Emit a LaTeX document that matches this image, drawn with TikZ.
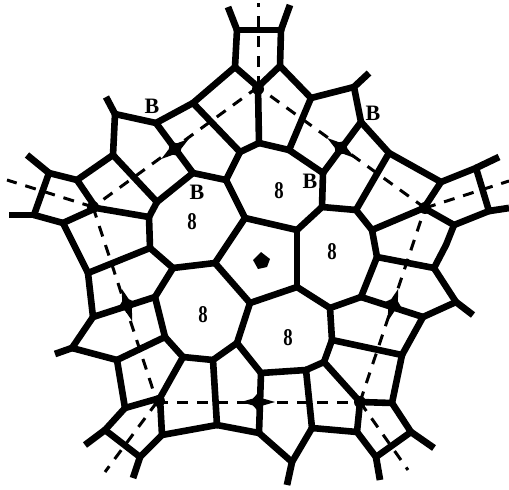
\documentclass[tikz,border=0pt]{standalone}
\usepackage{fontspec}
\setmainfont{Liberation Serif}
\tikzset{
  edge/.style={line width=6.6pt,line cap=round,line join=round,black},
  tail/.style={line width=6.8pt,line cap=butt,black},
  guide/.style={line width=3pt,dash pattern=on 11pt off 9pt,black},
  lab/.style={font=\bfseries\fontsize{22}{22}\selectfont,inner sep=0pt},
  num/.style={font=\bfseries\fontsize{24}{24}\selectfont,inner sep=0pt,xscale=.78},
  blob/.style={fill=black,draw=none}
}
\begin{document}
\begin{tikzpicture}[x=1pt,y=-1pt]
\useasboundingbox[fill=white] (0,0) rectangle (509,490);
% guide lines
\foreach \n/\x/\y in {p1/258/87,p2/93/207,p3/157/402,p4/360/402,p5/425/208,
 r1/258/3,r2/7/180,r3/105/472,r4/408/470,r5/509/181}
 {\coordinate (\n) at (\x,\y);}
\draw[guide] (p1) -- (p2);\draw[guide] (p2) -- (p3);\draw[guide] (p3) -- (p4);
\draw[guide] (p4) -- (p5);\draw[guide] (p5) -- (p1);
\draw[guide] (p1) -- (r1);\draw[guide] (p2) -- (r2);\draw[guide] (p3) -- (r3);
\draw[guide] (p4) -- (r4);\draw[guide] (p5) -- (r5);
% vertices
\foreach \n/\x/\y in {
 a1/237/30,a2/281/30,a3/235/67,a4/280/66,a5/258/87,a6/259/143,
 b1/193/103,b2/156/123,b3/115/114,b4/113/155,b5/193/173,b6/240/152,b7/226/180,
 b8/157/202,b9/149/217,b10/77/180,b11/49/173,b12/34/215,b13/63/223,b14/96/208,
 c1/245/218,c2/297/230,c3/297/287,c4/250/303,c5/215/263,
 d1/150/248,d2/173/268,d3/88/273,d4/155/297,d5/93/317,d6/165/337,d7/183/357,
 d8/213/360,d9/237/343,d10/72/348,d11/117/360,d12/125/408,d13/160/398,d14/105/430,
 d15/140/457,d16/162/435,d17/217/425,
 e1/261/373,e2/259/433,e3/292/462,e4/312/428,e5/306/370,e6/324/362,e7/330/308,
 e8/332/340,e9/361/297,e10/377/257,e11/434/268,e12/456/302,e13/423/317,e14/402/355,
 e15/392/403,e16/360/402,e17/357/432,e18/376/457,e19/411/432,
 f1/311/98,f2/354/87,f3/361/122,f4/389/153,f5/323/173,f6/289/150,f7/322/207,
 f8/356/210,f9/372/230,f10/424/208,f11/441/182,f12/476/168,f13/489/211,f14/454/225,f15/446/245}
 {\coordinate (\n) at (\x,\y);}
% free ends
\foreach \n/\x/\y in {t1/228/7,t2/290/5,t3/106/97,t4/27/155,t5/9/215,t6/55/354,t7/85/445,
 t8/133/478,t9/287/485,t10/380/480,t11/434/448,t12/473/315,t13/369/73,t14/499/157,t15/509/208}
 {\coordinate (\n) at (\x,\y);}
% edges
\foreach \p/\q in {a1/a2,a1/a3,a2/a4,a3/a5,a4/a5,a5/a6,a3/b1,b1/b2,b2/b3,b3/b4,b2/b5,b1/b6,
 b6/a6,b6/b7,b5/b7,b7/c1,b4/b8,b5/b8,b8/b9,b4/b10,b10/b11,b11/b12,b12/b13,b10/b14,b14/b9,b13/b14,
 b9/d1,b13/d3,d3/d1,d1/d2,d2/c5,c5/c1,c1/c2,c2/c3,c3/c4,c4/c5,d2/d4,d3/d5,d5/d4,d4/d6,d6/d7,d7/d8,
 d8/d9,d9/c4,d5/d10,d10/d11,d11/d6,d11/d12,d12/d13,d13/d7,d12/d14,d14/d15,d15/d16,d16/d13,d16/d17,
 d17/d8,d17/e2,d9/e1,e1/e2,e2/e3,e3/e4,e4/e5,e5/e1,e5/e6,e6/e8,e8/e7,e7/c3,e7/e9,e9/e10,e10/e11,
 e11/f15,e11/e12,e12/e13,e9/e13,e13/e14,e14/e15,e8/e14,e6/e16,e16/e15,e16/e17,e17/e4,e17/e18,e18/e19,
 e19/e15,a4/f1,f1/f2,f2/f3,f3/f4,f3/f5,f1/f6,f6/a6,f6/f5,f5/f7,f7/f8,f7/c2,f8/f4,f8/f9,f9/e10,f9/f10,
 f4/f11,f11/f10,f11/f12,f12/f13,f13/f14,f10/f14,f14/f15}
 {\draw[edge] (\p) -- (\q);}
\foreach \p/\q in {a1/t1,a2/t2,b3/t3,b11/t4,b12/t5,d10/t6,d14/t7,d15/t8,e3/t9,e18/t10,e19/t11,e12/t12,f2/t13,f12/t14,f13/t15}
 {\draw[tail] (\p) -- (\q);}
% stars on the sides
\foreach \x/\y/\r in {175/149/36,341/148/-36,393/305/72,258/402/0,127/305/-72}
 {\path[blob,shift={(\x,\y)},rotate=\r] (-17,0) -- (-5,-3.5) -- (0,-9) -- (5,-3.5) -- (17,0) -- (5,3.5) -- (0,9) -- (-5,3.5) -- cycle;}
% blobs at corners
\foreach \x/\y in {258/89,93/207,159/401,360/402,425/208}
 {\path[blob] (\x,\y) circle (6pt);}
% central pentagon
\path[blob] (261,252) -- (270,259) -- (267,267) -- (258,269) -- (253,260) -- cycle;
% labels
\node[lab] (l1) at (152,106) {B};
\node[lab] (l2) at (373,113) {B};
\node[lab] (l3) at (197,192) {B};
\node[lab] (l4) at (310,181) {B};
\node[num] (n1) at (192,222) {8};
\node[num] (n2) at (279,191) {8};
\node[num] (n3) at (332,252) {8};
\node[num] (n4) at (203,315) {8};
\node[num] (n5) at (288,338) {8};
\end{tikzpicture}
\end{document}
